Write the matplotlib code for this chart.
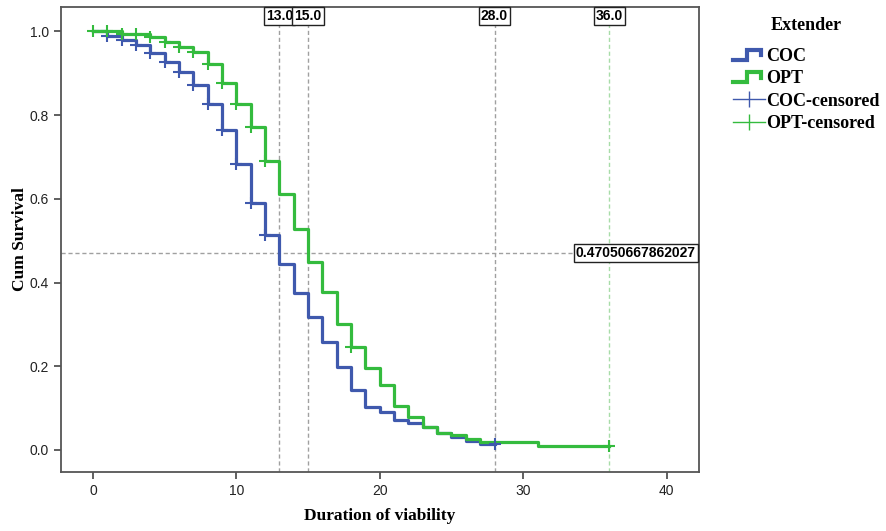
import numpy as np
import matplotlib
matplotlib.use("Agg")
import matplotlib.pyplot as plt
from matplotlib.lines import Line2D
from matplotlib.legend_handler import HandlerBase
import matplotlib.transforms as mtransforms

# Kaplan-Meier steps (time, survival after the drop)
coc_time = [0, 1, 2, 3, 4, 5, 6, 7, 8, 9, 10, 11, 12, 13, 14, 15, 16, 17, 18, 19, 20,
            21, 22, 23, 24, 25, 26, 27, 28]
coc_surv = [1.0, 0.990, 0.979, 0.967, 0.948, 0.928, 0.903, 0.873, 0.826, 0.765, 0.683,
            0.591, 0.513, 0.445, 0.375, 0.317, 0.258, 0.199, 0.143, 0.102, 0.091,
            0.072, 0.064, 0.054, 0.041, 0.032, 0.022, 0.014, 0.014]
opt_time = [0, 2, 4, 5, 6, 7, 8, 9, 10, 11, 12, 13, 14, 15, 16, 17, 18, 19, 20, 21, 22,
            23, 24, 25, 26, 27, 31, 36]
opt_surv = [1.0, 0.995, 0.988, 0.976, 0.963, 0.951, 0.923, 0.878, 0.827, 0.772, 0.690,
            0.612, 0.529, 0.449, 0.378, 0.302, 0.247, 0.197, 0.155, 0.105, 0.080,
            0.054, 0.041, 0.035, 0.026, 0.020, 0.010, 0.010]
coc_censor = [1, 2, 3, 4, 5, 6, 7, 8, 9, 10, 11, 12, 28]
opt_censor = [0, 1, 2, 3, 4, 5, 6, 7, 8, 9, 10, 11, 12, 18, 36]

ref_x = [13.0, 15.0, 28.0, 36.0]
ref_x_colors = ["#a0a0a0", "#a0a0a0", "#a0a0a0", "#a8dca8"]
ref_y = 0.47050667862027

x_ticks = [0, 10, 20, 30, 40]
y_ticks = [0.0, 0.2, 0.4, 0.6, 0.8, 1.0]

BLUE = "#3f59ad"
GREEN = "#34bb3e"


def surv_at(times, surv, t):
    i = np.searchsorted(times, t, side="right") - 1
    return np.asarray(surv)[i]


class HandlerStep(HandlerBase):
    # small step-shaped glyph like the SPSS legend
    def create_artists(self, legend, orig_handle, xdescent, ydescent, width, height,
                       fontsize, trans):
        x0 = -xdescent
        y0 = -ydescent + 0.1 * height
        y1 = -ydescent + 0.9 * height
        xs = [x0, x0 + 0.45 * width, x0 + 0.45 * width, x0 + 0.9 * width, x0 + 0.9 * width]
        ys = [y0, y0, y1, y1, y0 + 0.35 * height]
        ln = Line2D(xs, ys, color=orig_handle.get_color(), lw=3, transform=trans,
                    solid_joinstyle="miter")
        return [ln]


fig = plt.figure(figsize=(8.87, 5.31), dpi=100)
ax = fig.add_axes([61 / 887, 59 / 531, 638 / 887, 465 / 531])

# reference lines
for xv, c in zip(ref_x, ref_x_colors):
    ax.axvline(xv, color=c, lw=1, ls=(0, (3, 2)), zorder=1)
ax.axhline(ref_y, color="#a0a0a0", lw=1, ls=(0, (3, 2)), zorder=1)

h_coc, = ax.step(coc_time, coc_surv, where="post", color=BLUE, lw=2.3, zorder=3)
h_opt, = ax.step(opt_time, opt_surv, where="post", color=GREEN, lw=2.3, zorder=4)

ax.plot(coc_censor, [surv_at(coc_time, coc_surv, t) for t in coc_censor], ls="none",
        marker="+", ms=9, mew=1.5, color=BLUE, zorder=5)
ax.plot(opt_censor, [surv_at(opt_time, opt_surv, t) for t in opt_censor], ls="none",
        marker="+", ms=9, mew=1.5, color=GREEN, zorder=6)

ax.set_xlim(-2.23, 42.26)
ax.set_ylim(-0.0526, 1.0585)
ax.set_xticks(x_ticks)
ax.set_yticks(y_ticks)
ax.set_yticklabels(["%.1f" % v for v in y_ticks])
ax.tick_params(direction="out", length=5, width=1.2, color="#444444", labelsize=10)
for lab in ax.get_xticklabels() + ax.get_yticklabels():
    lab.set_family(["Liberation Sans Narrow", "Liberation Sans", "DejaVu Sans"])
    lab.set_color("#222222")
for sp in ax.spines.values():
    sp.set_color("#555555")
    sp.set_linewidth(1.3)

lab_font = dict(family="Liberation Serif", fontweight="bold", fontsize=12.5)
ax.set_xlabel("Duration of viability", **lab_font)
ax.set_ylabel("Cum Survival", **lab_font)
ax.xaxis.set_label_coords(0.5, -0.077)
ax.yaxis.set_label_coords(-0.052, 0.5)

box = dict(boxstyle="square,pad=0.15", fc="white", ec="#222222", lw=1)
trx = mtransforms.blended_transform_factory(ax.transData, ax.transAxes)
for xv in ref_x:
    ax.text(xv, 0.996, "%.1f" % xv, transform=trx, ha="center", va="top",
            fontsize=10, fontweight="bold", family="Liberation Sans", bbox=box, zorder=7)
try_ = mtransforms.blended_transform_factory(ax.transAxes, ax.transData)
ax.text(0.995, ref_y, "%.14f" % ref_y, transform=try_, ha="right", va="center",
        fontsize=10, fontweight="bold", family="Liberation Sans", bbox=box, zorder=7)

h_coc_c = Line2D([], [], color=BLUE, lw=1, marker="|", ms=12, mew=1)
h_opt_c = Line2D([], [], color=GREEN, lw=1, marker="|", ms=12, mew=1)
leg = fig.legend([h_coc, h_opt, h_coc_c, h_opt_c],
                 ["COC", "OPT", "COC-censored", "OPT-censored"],
                 handler_map={h_coc: HandlerStep(), h_opt: HandlerStep()},
                 loc="upper left", bbox_to_anchor=(733 / 887, 1 - 17 / 531),
                 frameon=False, title="Extender", handlelength=1.75, handletextpad=0.1,
                 labelspacing=0.3, borderaxespad=0, borderpad=0,
                 prop=dict(family="Liberation Serif", weight="bold", size=13),
                 title_fontproperties=dict(family="Liberation Serif", weight="bold", size=13))
leg._legend_box.sep = 10

fig.savefig("out.png", dpi=100)
